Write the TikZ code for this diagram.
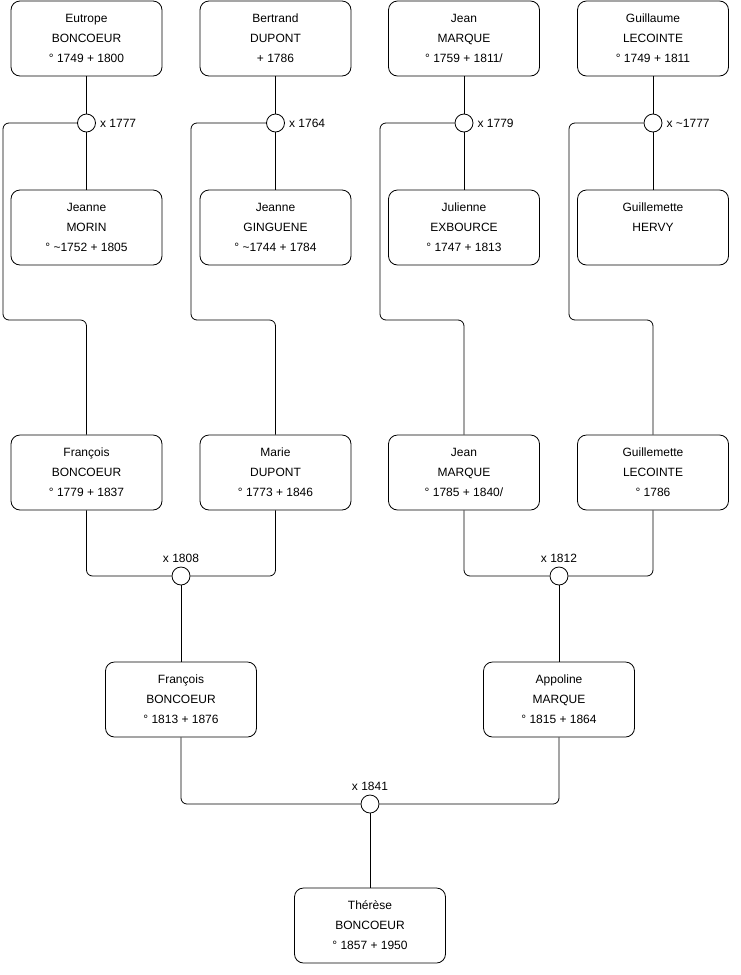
\documentclass[tikz,border=0pt]{standalone}
\usepackage{fontspec}
\setmainfont{Liberation Sans}
\usetikzlibrary{positioning}

\begin{document}
\begin{tikzpicture}[x=1pt, y=-1pt, font=\fontsize{12}{20}\selectfont]
        \tikzset{person/.style={rectangle, draw, rounded corners=9pt, align=center, minimum width=151pt, minimum height=75pt, line width=0.8pt},
                 union/.style={circle, draw, fill=white, minimum size=18pt, inner sep=0pt, line width=0.8pt},
                 year/.style={inner sep=1pt},
                 link/.style={line width=0.8pt, rounded corners=6pt}}
        \useasboundingbox (0,0) rectangle (740,975);
        % grandparents' parents
        \node[person] (eutrope) at (86.5,38.5) {Eutrope\\BONCOEUR\\° 1749 + 1800};
        \node[person] (bertrand) at (275.5,38.5) {Bertrand\\DUPONT\\+ 1786};
        \node[person] (jeanA) at (464,38.5) {Jean\\MARQUE\\° 1759 + 1811/};
        \node[person] (guillaume) at (653,38.5) {Guillaume\\LECOINTE\\° 1749 + 1811};
        \node[union] (m1777) at (86.5,123) {};
        \node[union] (m1764) at (275.5,123) {};
        \node[union] (m1779) at (464,123) {};
        \node[union] (m1777b) at (653,123) {};
        \node[year, right=3pt of m1777] {x 1777};
        \node[year, right=3pt of m1764] {x 1764};
        \node[year, right=3pt of m1779] {x 1779};
        \node[year, right=3pt of m1777b] {x \textasciitilde1777};
        \node[person] (morin) at (86.5,227.5) {Jeanne\\MORIN\\° \textasciitilde1752 + 1805};
        \node[person] (ginguene) at (275.5,227.5) {Jeanne\\GINGUENE\\° \textasciitilde1744 + 1784};
        \node[person] (exbource) at (464,227.5) {Julienne\\EXBOURCE\\° 1747 + 1813};
        \node[person] (hervy) at (653,227.5) {Guillemette\\HERVY\\\mbox{}};
        % grandparents
        \node[person] (francoisA) at (86.5,472.5) {François\\BONCOEUR\\° 1779 + 1837};
        \node[person] (marie) at (275.5,472.5) {Marie\\DUPONT\\° 1773 + 1846};
        \node[person] (jeanB) at (464,472.5) {Jean\\MARQUE\\° 1785 + 1840/};
        \node[person] (guillemette) at (653,472.5) {Guillemette\\LECOINTE\\° 1786};
        \node[union] (m1808) at (181,576) {};
        \node[union] (m1812) at (559,576) {};
        \node[year, above=3pt of m1808] {x 1808};
        \node[year, above=3pt of m1812] {x 1812};
        % parents
        \node[person] (francoisB) at (181,699.5) {François\\BONCOEUR\\° 1813 + 1876};
        \node[person] (appoline) at (559,699.5) {Appoline\\MARQUE\\° 1815 + 1864};
        \node[union] (m1841) at (370,804) {};
        \node[year, above=3pt of m1841] {x 1841};
        \node[person] (therese) at (370,925.5) {Thérèse\\BONCOEUR\\° 1857 + 1950};

        \draw[link] (eutrope) -- (m1777) -- (morin);
        \draw[link] (bertrand) -- (m1764) -- (ginguene);
        \draw[link] (jeanA) -- (m1779) -- (exbource);
        \draw[link] (guillaume) -- (m1777b) -- (hervy);
        \draw[link] (m1777.west) -- (3,123) |- (francoisA.north |- 0,320) -- (francoisA.north);
        \draw[link] (m1764.west) -- (191,123) |- (marie.north |- 0,320) -- (marie.north);
        \draw[link] (m1779.west) -- (380,123) |- (jeanB.north |- 0,320) -- (jeanB.north);
        \draw[link] (m1777b.west) -- (569,123) |- (guillemette.north |- 0,320) -- (guillemette.north);
        \draw[link] (francoisA) |- (m1808);
        \draw[link] (marie) |- (m1808);
        \draw[link] (m1808) -- (francoisB);
        \draw[link] (jeanB) |- (m1812);
        \draw[link] (guillemette) |- (m1812);
        \draw[link] (m1812) -- (appoline);
        \draw[link] (francoisB) |- (m1841);
        \draw[link] (appoline) |- (m1841);
        \draw[link] (m1841) -- (therese);
    \end{tikzpicture}
\end{document}
